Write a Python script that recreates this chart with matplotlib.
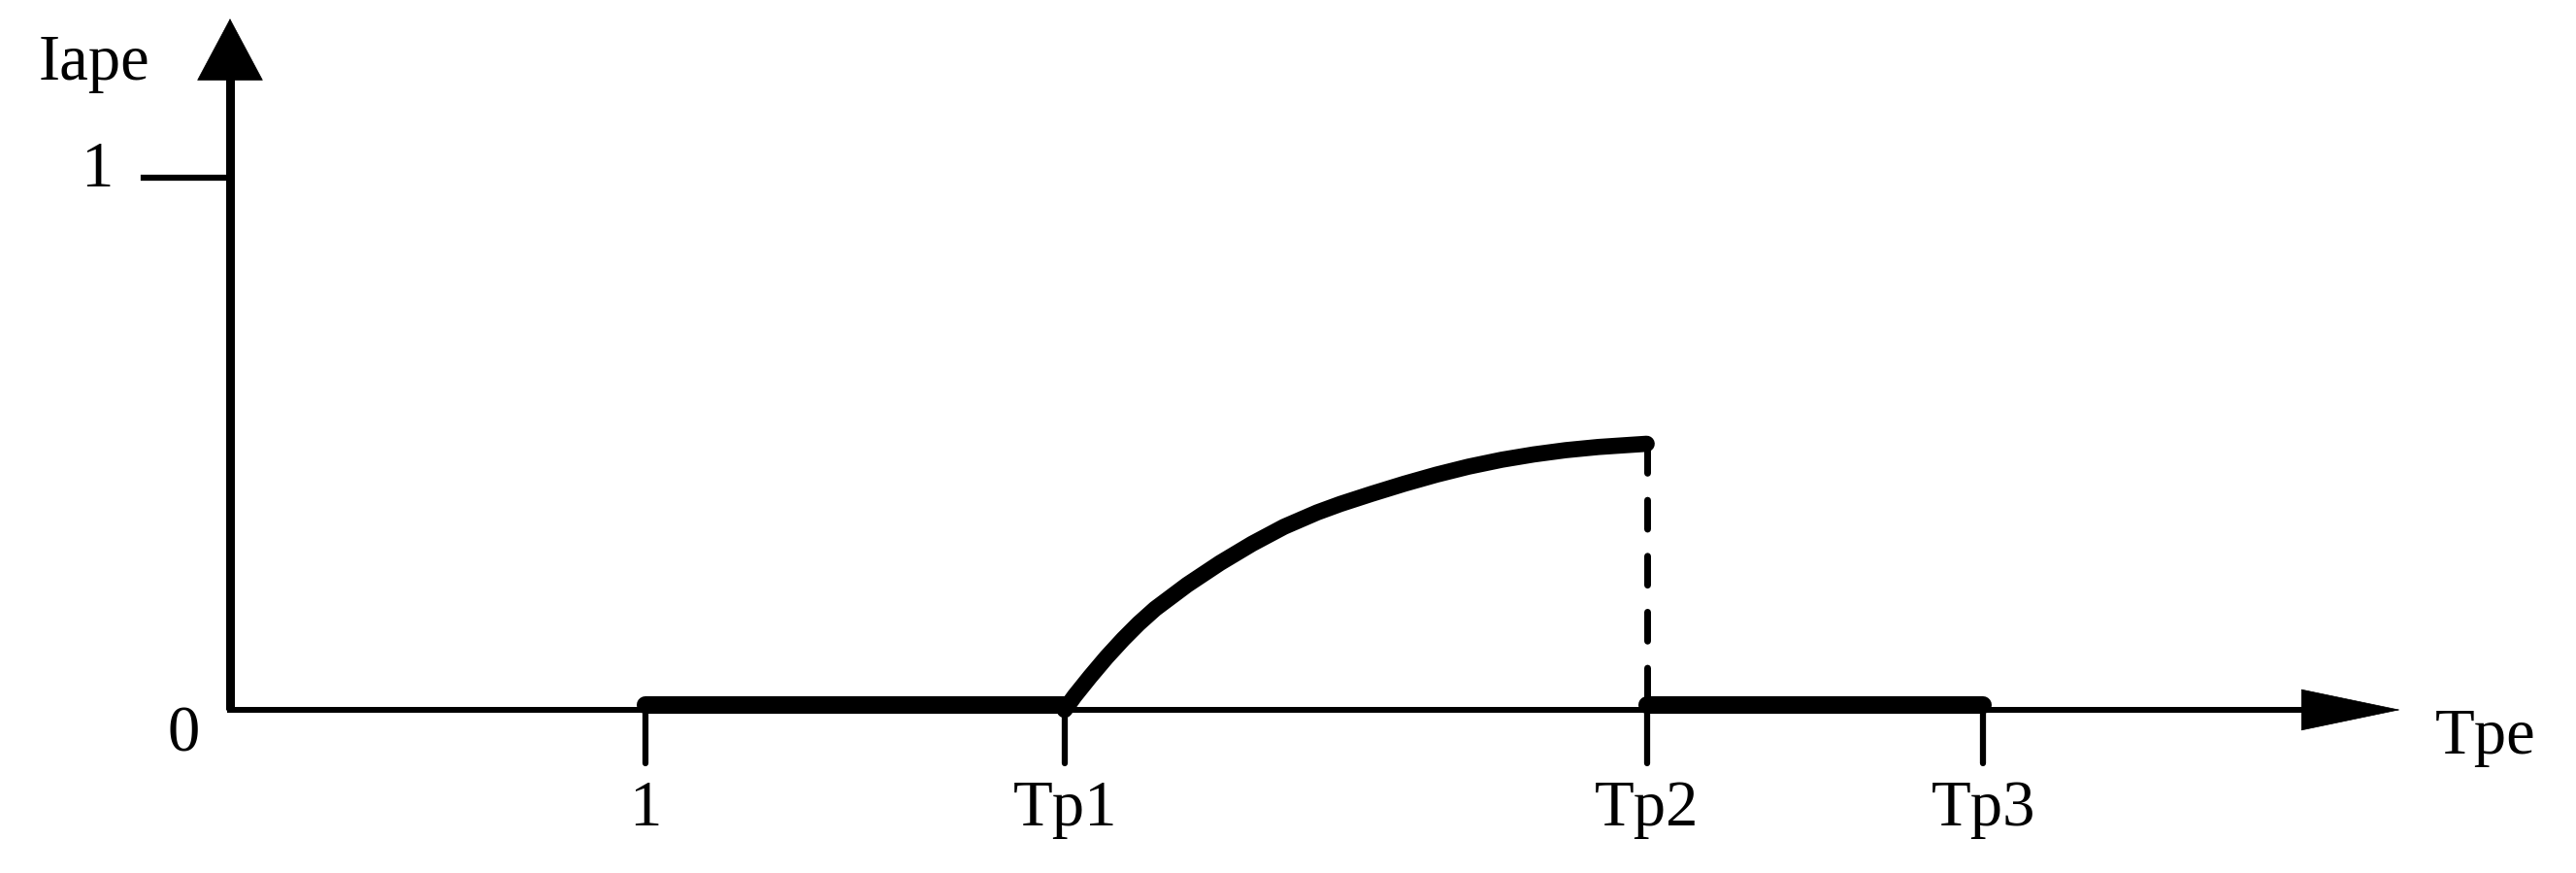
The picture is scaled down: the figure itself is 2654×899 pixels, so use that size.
import matplotlib
matplotlib.use("Agg")
import matplotlib.pyplot as plt
from matplotlib.transforms import offset_copy

# ── data ──────────────────────────────────────────────────────────────────────
x_ticks = [1.0, 2.01, 3.41, 4.22]
x_tick_labels = ["1", "Tp1", "Tp2", "Tp3"]
y_tick = 1.0
y_tick_label = "1"

# Iape rises from Tp1 to Tp2
curve_x = [2.009, 2.033, 2.070, 2.110, 2.150, 2.187, 2.227, 2.304,
           2.383, 2.460, 2.537, 2.617, 2.673, 2.748, 2.827, 2.904,
           2.981, 3.061, 3.138, 3.215, 3.294, 3.371, 3.410]
curve_y = [0.0, 0.026, 0.062, 0.099, 0.133, 0.162, 0.190, 0.235,
           0.276, 0.312, 0.344, 0.371, 0.387, 0.406, 0.425, 0.442,
           0.457, 0.470, 0.480, 0.488, 0.494, 0.498, 0.500]

# zero segments
seg1_x = [1.0, 2.01]
seg2_x = [3.41, 4.22]

x_end = 5.224
y_end = 1.299

FONT = "Liberation Serif"
FS = 48

fig = plt.figure(figsize=(26.54, 8.99), dpi=100)
ax = fig.add_axes([0, 0, 1, 1])
ax.set_xlim(-0.5537, 5.647)
ax.set_ylim(-0.3066, 1.334)
ax.axis("off")

# ── axes with arrows ──────────────────────────────────────────────────────────
ax.plot([0, 0], [y_end - 0.1, 0], color="black", lw=6.5, solid_capstyle="butt")
ax.plot([0, x_end - 0.2], [0, 0], color="black", lw=4.3,
        solid_capstyle="projecting")
ax.annotate("", xy=(0, y_end), xytext=(0, y_end - 0.12),
            arrowprops=dict(arrowstyle="-|>,head_length=45,head_width=24",
                            mutation_scale=1, color="black", lw=0.5,
                            shrinkA=0, shrinkB=0))
ax.annotate("", xy=(x_end, 0), xytext=(x_end - 0.25, 0),
            arrowprops=dict(arrowstyle="-|>,head_length=72,head_width=15",
                            mutation_scale=1, color="black", lw=0.5,
                            shrinkA=0, shrinkB=0))

# ticks
ax.plot([-0.208, 0], [y_tick, y_tick], color="black", lw=4.5)
for xt in x_ticks:
    ax.plot([xt, xt], [0, -0.10], color="black", lw=4.5, solid_capstyle="round")

# ── series ────────────────────────────────────────────────────────────────────
lifted = offset_copy(ax.transData, fig=fig, x=0, y=3.5, units="points")
ax.plot(seg1_x, [0, 0], color="black", lw=13, solid_capstyle="round",
        transform=lifted)
ax.plot(seg2_x, [0, 0], color="black", lw=13, solid_capstyle="round",
        transform=lifted)
ax.plot(curve_x, curve_y, color="black", lw=12, solid_capstyle="round",
        solid_joinstyle="round")
ax.plot([x_ticks[2], x_ticks[2]], [curve_y[-1], 0], color="black", lw=5,
        dashes=(4.3, 4.0), dash_capstyle="round")

# ── text ──────────────────────────────────────────────────────────────────────
for xt, lab in zip(x_ticks, x_tick_labels):
    ax.text(xt, -0.217, lab, ha="center", va="baseline", fontsize=FS,
            family=FONT)
ax.text(-0.32, 0.984, y_tick_label, ha="center", va="baseline", fontsize=FS,
        family=FONT)
ax.text(-0.112, -0.077, "0", ha="center", va="baseline", fontsize=FS,
        family=FONT)
ax.text(-0.327, 1.184, "Iape", ha="center", va="baseline", fontsize=FS,
        family=FONT)
ax.text(5.428, -0.082, "Tpe", ha="center", va="baseline", fontsize=FS,
        family=FONT)

fig.savefig("out.png", dpi=100)
